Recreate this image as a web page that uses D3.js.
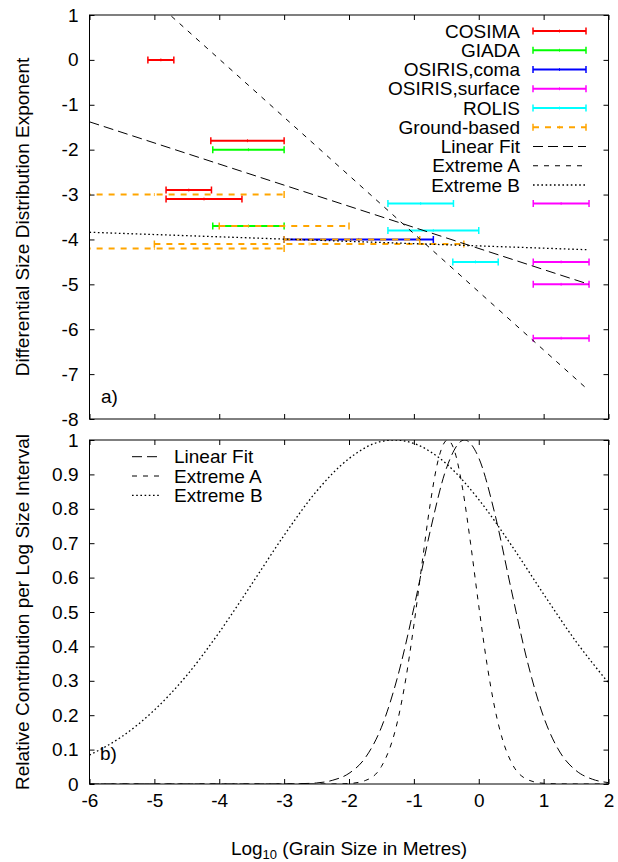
<!DOCTYPE html>
<html>
<head>
<meta charset="utf-8">
<script src="https://cdn.jsdelivr.net/npm/d3@7"></script>
<style>
    body { margin: 0; background: #fff; }
    svg text { font-family: "Liberation Sans", Arial, Helvetica, sans-serif; font-size: 19px; fill: #000; }
</style>
</head>
<body>
<div id="chart"></div>
<script>

// error bars read off panel a): [exponent, log size low, log size high]
const cosimaBars = [[0, -5.1, -4.7], [-1.8, -4.13, -3.0], [-2.9, -4.82, -4.12], [-3.1, -4.82, -3.65]];
const giadaBars = [[-2.0, -4.1, -3.0], [-3.7, -4.1, -3.0]];
const osirisComaBars = [[-4.0, -3.0, -0.7]];
const osirisSurfaceBars = [[-3.2, 0.84, 1.7], [-4.5, 0.84, 1.7], [-5.0, 0.84, 1.7], [-6.2, 0.84, 1.7]];
const rolisBars = [[-3.2, -1.4, -0.39], [-3.8, -1.4, 0.0], [-4.5, -0.4, 0.3]];
const groundBars = [[-3.0, -7.0, -3.0], [-3.7, -4.0, -2.0], [-4.0, -3.0, -0.91], [-4.1, -5.0, -0.23], [-4.2, -7.0, -3.0]];

const barNames = ["COSIMA", "GIADA", "OSIRIS,coma", "OSIRIS,surface", "ROLIS", "Ground-based"];
const lineNames = ["Linear Fit", "Extreme A", "Extreme B"];

// exponent lines, end points [log size, exponent]
const linearFitLine = [[-6, -1.38], [1.7, -5.0]];
const extremeALine = [[-6, 2.61], [1.7, -7.37]];
const extremeBLine = [[-6, -3.84], [1.7, -4.23]];

// panel b) curves, [log size, relative contribution]
const contribLinearFit = [[-6, 0], [-3.5, 0], [-3, 0.0002], [-2.75, 0.001], [-2.5, 0.003], [-2.25, 0.011],
    [-2, 0.031], [-1.75, 0.076], [-1.5, 0.165], [-1.25, 0.312], [-1, 0.512], [-0.75, 0.734], [-0.5, 0.917],
    [-0.22, 1.0], [0, 0.948], [0.25, 0.784], [0.5, 0.566], [0.75, 0.356], [1, 0.195], [1.25, 0.093],
    [1.5, 0.039], [1.75, 0.014], [2, 0.004]];
const contribExtremeA = [[-6, 0], [-2.5, 0], [-2.25, 0.0001], [-2, 0.0014], [-1.75, 0.010], [-1.5, 0.051],
    [-1.25, 0.184], [-1.125, 0.305], [-1, 0.462], [-0.875, 0.640], [-0.75, 0.812], [-0.625, 0.942],
    [-0.48, 1.0], [-0.375, 0.969], [-0.25, 0.860], [-0.125, 0.698], [0, 0.518], [0.125, 0.351],
    [0.25, 0.218], [0.375, 0.124], [0.5, 0.064], [0.75, 0.013], [1, 0.002], [1.25, 0.0002], [1.5, 0], [2, 0]];
const contribExtremeB = [[-6, 0.084], [-5.5, 0.138], [-5, 0.215], [-4.5, 0.316], [-4, 0.441], [-3.5, 0.581],
    [-3, 0.723], [-2.5, 0.851], [-2, 0.946], [-1.5, 0.996], [-1.3, 1.0], [-1, 0.990], [-0.5, 0.931],
    [0, 0.827], [0.5, 0.695], [1, 0.552], [1.5, 0.414], [2, 0.294]];

// tick labels
const logSizeTicks = [-6, -5, -4, -3, -2, -1, 0, 1, 2];
const exponentTicks = [1, 0, -1, -2, -3, -4, -5, -6, -7, -8];
const contribTicks = [0, 0.1, 0.2, 0.3, 0.4, 0.5, 0.6, 0.7, 0.8, 0.9, 1];


// styles
const barColors = ["#ff0000", "#00ff00", "#0000ff", "#ff00ff", "#00ffff", "#ffa500"];
const barDashes = [null, null, null, null, null, "6,6"];
const lineDashes = ["10,5", "5,6", "1.6,2.6"];
const lineWidths = [1, 1, 1.3];

const W = 618, H = 862;
const box = {left: 89.5, right: 608.5, top1: 15, bottom1: 419, top2: 440, bottom2: 784};

const svg = d3.select("#chart").append("svg")
    .attr("width", W)
    .attr("height", H);

let x = d3.scaleLinear().domain([-6, 2]).range([box.left, box.right]);


// gnuplot style frame: border plus inward ticks on all four sides
function drawFrame(g, y, yTicks, top, bottom, xLabels) {
    g.append("g")
        .attr("transform", `translate(${box.left},0)`)
        .call(d3.axisLeft(y).tickValues(yTicks).tickSize(-5).tickPadding(11).tickFormat(d => String(d)));
    g.append("g")
        .attr("transform", `translate(${box.right},0)`)
        .call(d3.axisRight(y).tickValues(yTicks).tickSize(-5).tickFormat(""));
    g.append("g")
        .attr("transform", `translate(0,${top})`)
        .call(d3.axisTop(x).tickValues(logSizeTicks).tickSize(-5).tickFormat(""));
    g.append("g")
        .attr("transform", `translate(0,${bottom})`)
        .call(d3.axisBottom(x).tickValues(logSizeTicks).tickSize(-5).tickPadding(10)
            .tickFormat(xLabels ? (d => String(d)) : ""));

    g.selectAll(".domain").remove();
    g.selectAll(".tick line").attr("stroke", "#000");
    g.selectAll(".tick text").attr("font-size", 19).attr("font-family", null);

    g.append("rect")
        .attr("x", box.left)
        .attr("y", top)
        .attr("width", box.right - box.left)
        .attr("height", bottom - top)
        .attr("fill", "none")
        .attr("stroke", "#000");
}

function clipTo(id, top, bottom) {
    svg.append("clipPath").attr("id", id)
        .append("rect")
        .attr("x", box.left).attr("y", top)
        .attr("width", box.right - box.left).attr("height", bottom - top);
}


/*
 * Panel a): size distribution exponents
 */
let yA = d3.scaleLinear().domain([-8, 1]).range([box.bottom1, box.top1]);
clipTo("clipA", box.top1, box.bottom1);

let panelA = svg.append("g");
let plotA = panelA.append("g").attr("clip-path", "url(#clipA)");

let barSeries = [cosimaBars, giadaBars, osirisComaBars, osirisSurfaceBars, rolisBars, groundBars];

function drawErrorBar(g, x0, x1, yy, color, dash) {
    g.append("line")
        .attr("x1", x0).attr("x2", x1).attr("y1", yy).attr("y2", yy)
        .attr("stroke", color).attr("stroke-width", 2)
        .attr("stroke-dasharray", dash);
    [x0, x1].forEach(xx => {
        g.append("line")
            .attr("x1", xx).attr("x2", xx).attr("y1", yy - 3.5).attr("y2", yy + 3.5)
            .attr("stroke", color).attr("stroke-width", 1.5);
    });
    // small centre mark
    g.append("line")
        .attr("x1", (x0 + x1) / 2).attr("x2", (x0 + x1) / 2).attr("y1", yy - 1.5).attr("y2", yy + 1.5)
        .attr("stroke", color).attr("stroke-width", 0.8);
}

barSeries.forEach((bars, i) => {
    let g = plotA.append("g").attr("class", "series");
    bars.forEach(b => drawErrorBar(g, x(b[1]), x(b[2]), yA(b[0]), barColors[i], barDashes[i]));
});

let lineA = d3.line().x(d => x(d[0])).y(d => yA(d[1]));

[linearFitLine, extremeALine, extremeBLine].forEach((pts, i) => {
    plotA.append("path")
        .attr("d", lineA(pts))
        .attr("fill", "none")
        .attr("stroke", "#000")
        .attr("stroke-width", lineWidths[i])
        .attr("stroke-dasharray", lineDashes[i]);
});

drawFrame(panelA, yA, exponentTicks, box.top1, box.bottom1, false);

// legend a)
let legA = panelA.append("g");
barNames.concat(lineNames).forEach((name, i) => {
    let ly = 31 + i * 19.25;
    legA.append("text")
        .attr("x", 520).attr("y", ly).attr("dy", "0.35em")
        .attr("text-anchor", "end")
        .text(name);
    if (i < barNames.length) {
        drawErrorBar(legA, 533, 586, ly, barColors[i], barDashes[i]);
    } else {
        let k = i - barNames.length;
        legA.append("line")
            .attr("x1", 533).attr("x2", 586).attr("y1", ly).attr("y2", ly)
            .attr("stroke", "#000").attr("stroke-width", lineWidths[k])
            .attr("stroke-dasharray", lineDashes[k]);
    }
});

panelA.append("text").attr("x", 101).attr("y", 403).text("a)");

svg.append("text")
    .attr("text-anchor", "middle")
    .attr("dy", "0.35em")
    .attr("transform", `translate(22, ${(box.top1 + box.bottom1) / 2}) rotate(-90)`)
    .text("Differential Size Distribution Exponent");


/*
 * Panel b): relative contribution per log size interval
 */
let yB = d3.scaleLinear().domain([0, 1]).range([box.bottom2, box.top2]);
clipTo("clipB", box.top2, box.bottom2);

let panelB = svg.append("g");
let plotB = panelB.append("g").attr("clip-path", "url(#clipB)");

let curve = d3.line()
    .x(d => x(d[0]))
    .y(d => yB(d[1]))
    .curve(d3.curveMonotoneX);

[contribLinearFit, contribExtremeA, contribExtremeB].forEach((pts, i) => {
    plotB.append("path")
        .attr("d", curve(pts))
        .attr("fill", "none")
        .attr("stroke", "#000")
        .attr("stroke-width", lineWidths[i])
        .attr("stroke-dasharray", lineDashes[i]);
});

drawFrame(panelB, yB, contribTicks, box.top2, box.bottom2, true);

// legend b)
lineNames.forEach((name, i) => {
    let ly = 456.7 + i * 19.3;
    panelB.append("line")
        .attr("x1", 132).attr("x2", 161).attr("y1", ly).attr("y2", ly)
        .attr("stroke", "#000").attr("stroke-width", lineWidths[i])
        .attr("stroke-dasharray", lineDashes[i]);
    panelB.append("text")
        .attr("x", 174).attr("y", ly).attr("dy", "0.35em")
        .text(name);
});

panelB.append("text").attr("x", 100).attr("y", 760).text("b)");

svg.append("text")
    .attr("text-anchor", "middle")
    .attr("dy", "0.35em")
    .attr("transform", `translate(22, ${(box.top2 + box.bottom2) / 2}) rotate(-90)`)
    .text("Relative Contribution per Log Size Interval");

// x axis title with subscript
let xTitle = svg.append("text")
    .attr("x", (box.left + box.right) / 2)
    .attr("y", 855)
    .attr("text-anchor", "middle");
xTitle.append("tspan").text("Log");
xTitle.append("tspan").attr("font-size", 13).attr("dy", 4).text("10");
xTitle.append("tspan").attr("dy", -4).text(" (Grain Size in Metres)");

</script>
</body>
</html>
